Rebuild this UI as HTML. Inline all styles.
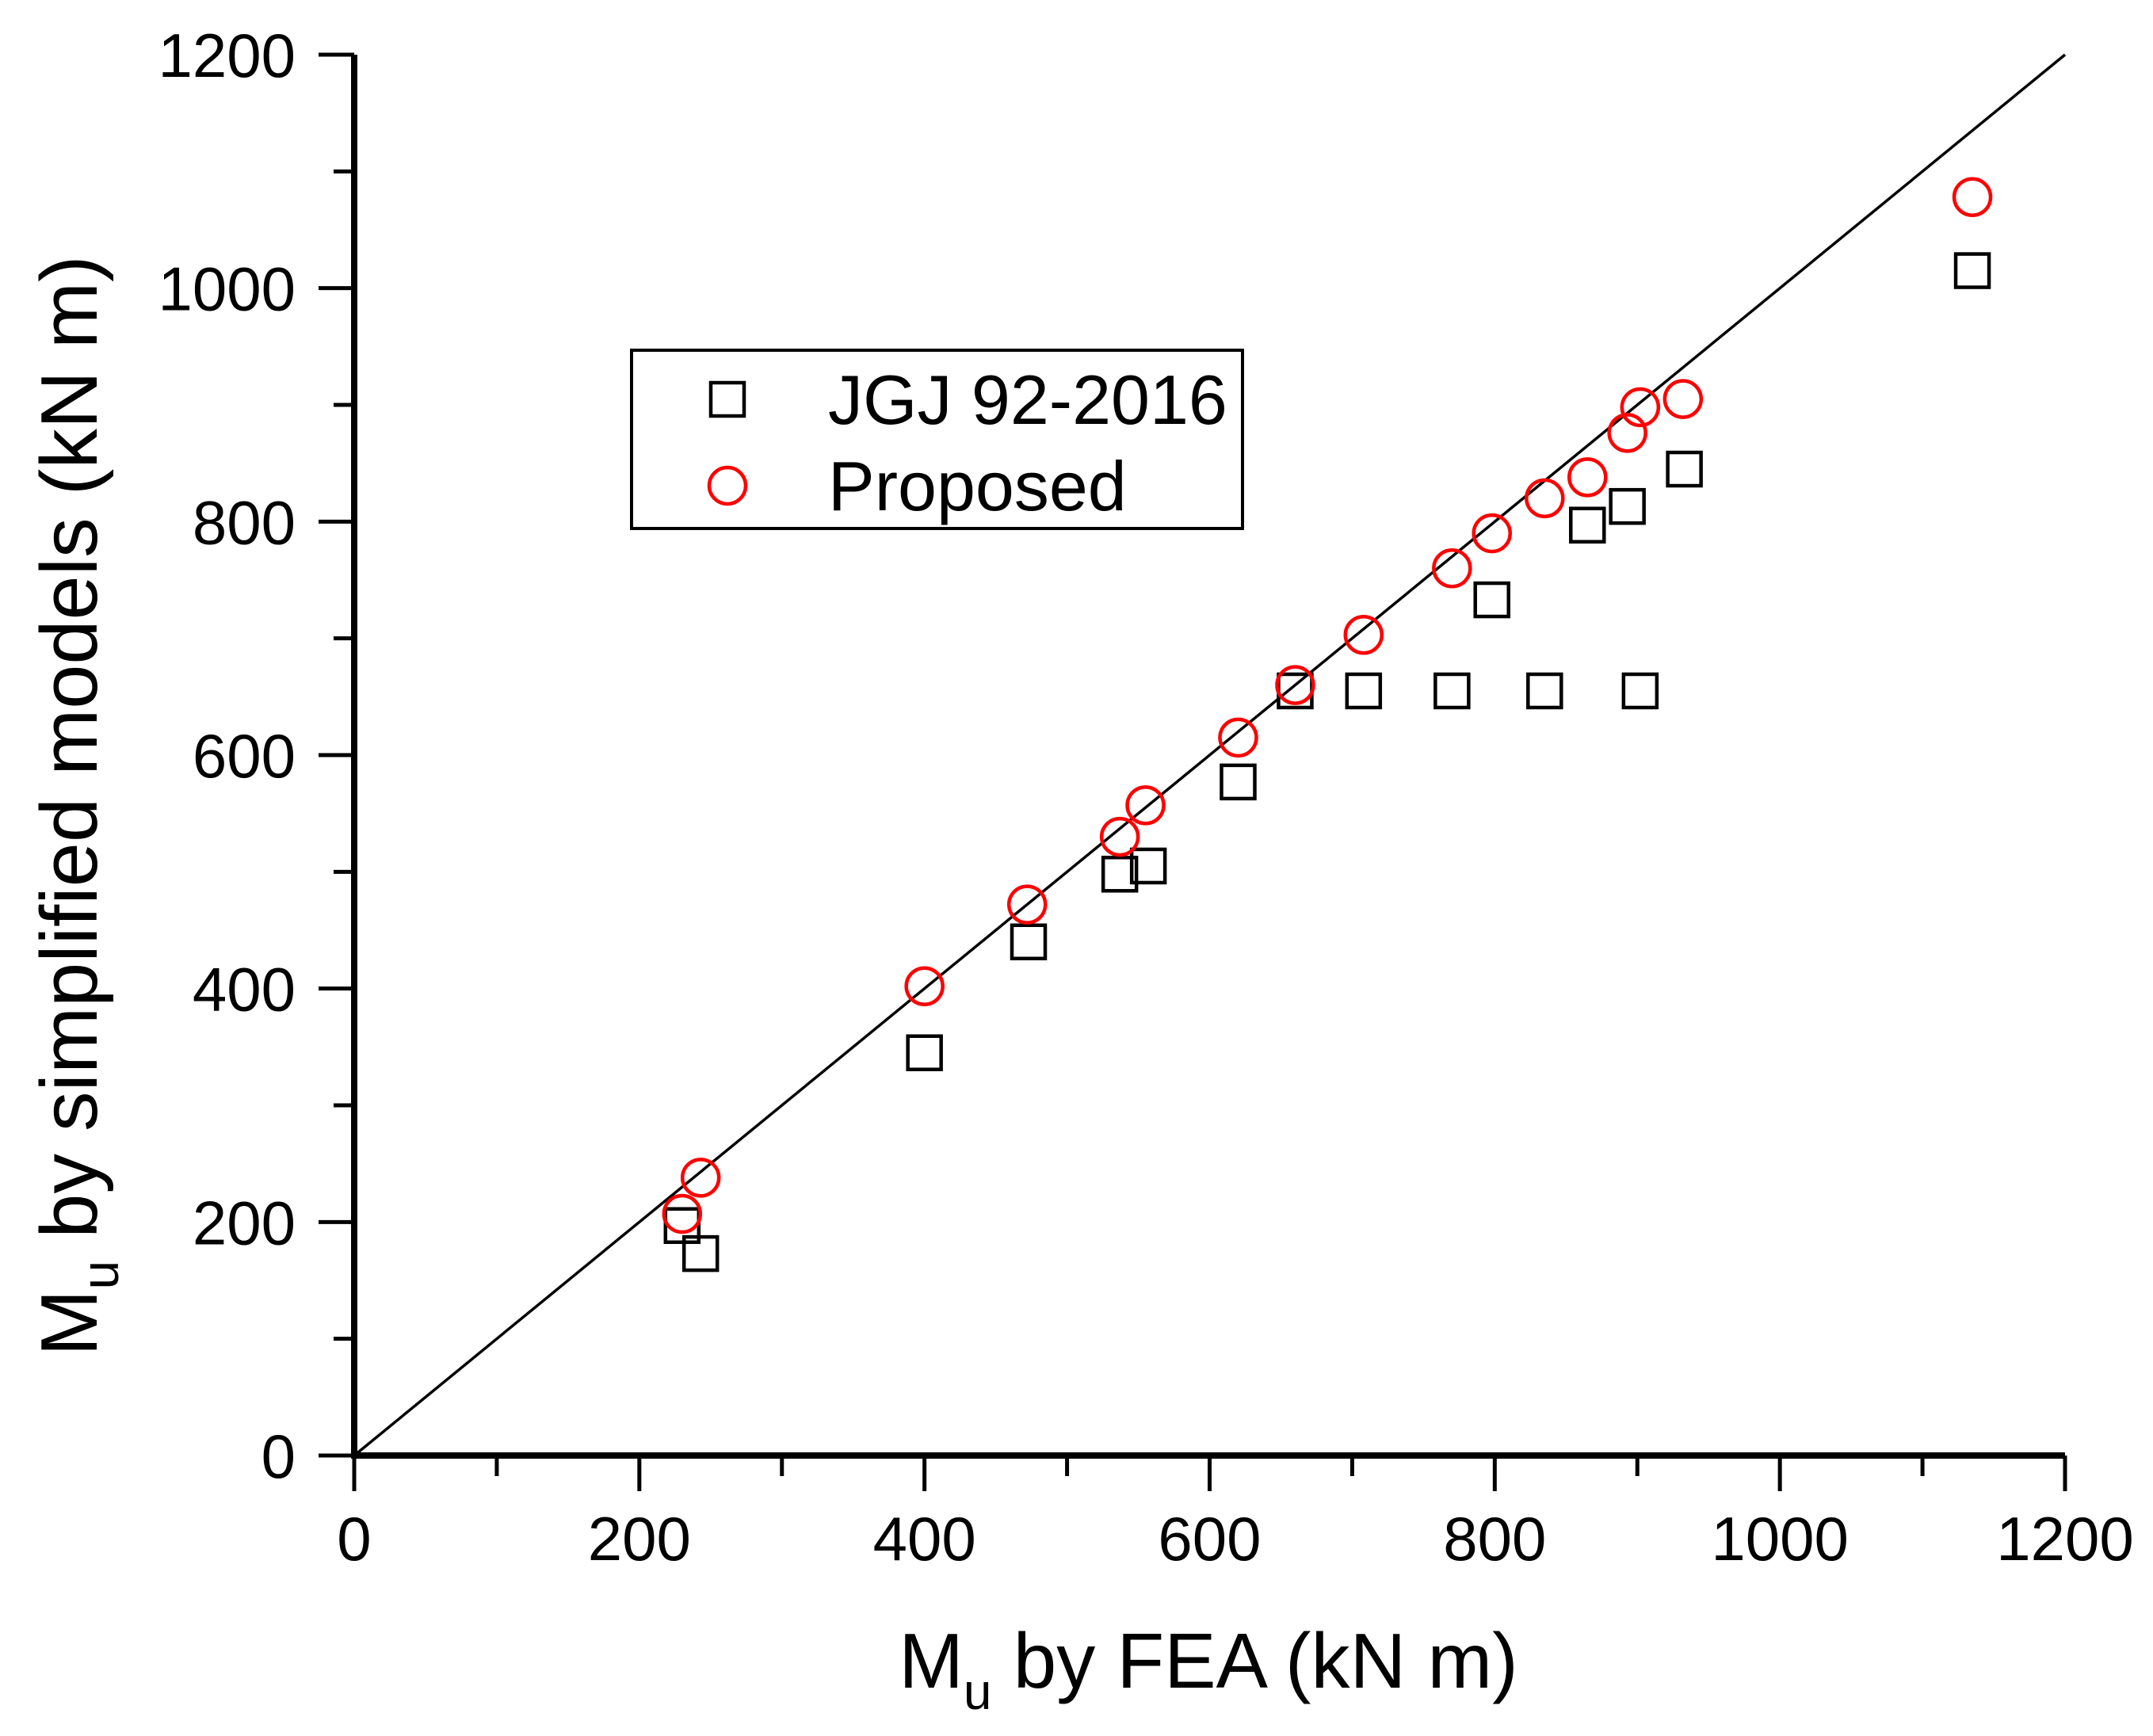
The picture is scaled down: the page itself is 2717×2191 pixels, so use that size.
<!DOCTYPE html>
<html><head><meta charset="utf-8"><style>body{margin:0;background:#fff}svg{display:block}text{font-family:"Liberation Sans",sans-serif}</style></head>
<body>
<svg id="chart" width="2717" height="2191" viewBox="0 0 2717 2191"></svg>
<script>
const xTicks=[0,200,400,600,800,1000,1200];
const yTicks=[0,200,400,600,800,1000,1200];
const jgjX=[230,243,400,473,537,557,620,660,708,770,835,902,798,865,893,933,1135];
const jgjY=[197,173,345,440,498,505,577,655,655,655,655,655,733,797,813,845,1015];
const propX=[230,243,400,472,537,555,620,660,708,770,798,835,865,893,902,932,1135];
const propY=[207,238,402,472,530,557,615,660,703,760,790,820,838,876,898,905,1078];
const X0=447,X1=2606,Y0=1837,Y1=69;
const sx=v=>X0+(X1-X0)*v/1200, sy=v=>Y0-(Y0-Y1)*v/1200;
const svg=document.getElementById('chart');const NS='http://www.w3.org/2000/svg';
function mk(t,a,p){const e=document.createElementNS(NS,t);for(const k in a)e.setAttribute(k,a[k]);(p||svg).appendChild(e);return e;}
const diag=mk('line',{x1:sx(0),y1:sy(0),x2:sx(1200),y2:sy(1200),stroke:'#000','stroke-width':3.5});


const ax=mk('line',{x1:X0-4,y1:Y0,x2:X1,y2:Y0,stroke:'#000','stroke-width':8});


const ay=mk('line',{x1:X0,y1:Y0+4,x2:X0,y2:Y1,stroke:'#000','stroke-width':8});


for(let v=0;v<=1200;v+=100){const maj=v%200===0;const L=maj?45:26;
 const tx=mk('line',{x1:sx(v),y1:Y0,x2:sx(v),y2:Y0+L,stroke:'#000','stroke-width':5});
 
 
 const ty=mk('line',{x1:X0,y1:sy(v),x2:X0-L,y2:sy(v),stroke:'#000','stroke-width':5});
 
 }
xTicks.forEach(v=>{const t=mk('text',{x:sx(v),y:Y0+132,'font-size':78,'text-anchor':'middle'});t.textContent=v;
 
 });
yTicks.forEach(v=>{const t=mk('text',{x:X0-74,y:sy(v)+28,'font-size':78,'text-anchor':'end'});t.textContent=v;
 
 });
jgjX.forEach((x,i)=>{const r=mk('rect',{x:sx(x)-21,y:sy(jgjY[i])-21,width:42,height:42,fill:'none',stroke:'#000','stroke-width':4.5});
 
 });
propX.forEach((x,i)=>{const c=mk('circle',{cx:sx(x),cy:sy(propY[i]),r:23,fill:'none',stroke:'#f00','stroke-width':4.5});
 
 });
</script>
<svg style="position:absolute;left:0;top:0" width="2717" height="2191">
<g>
<rect x="797" y="442" width="771" height="225" fill="#fff" stroke="#000" stroke-width="4"/>
<rect x="897" y="483" width="42" height="42" fill="none" stroke="#000" stroke-width="4.5"/>
<text x="1045" y="535" font-size="88" font-family="Liberation Sans">JGJ 92-2016</text>
<circle cx="918" cy="613" r="23" fill="none" stroke="#f00" stroke-width="4.5"/>
<text x="1045" y="644" font-size="88" font-family="Liberation Sans">Proposed</text>
</g>
<text x="1525" y="2130" font-size="98" text-anchor="middle" font-family="Liberation Sans">M<tspan font-size="64" dy="27">u</tspan><tspan dy="-27"> by FEA (kN m)</tspan></text>
<text transform="translate(122,1017) rotate(-90)" font-size="101" text-anchor="middle" font-family="Liberation Sans">M<tspan font-size="66" dy="27">u</tspan><tspan dy="-27"> by simplified models (kN m)</tspan></text>
</svg>
</body></html>
